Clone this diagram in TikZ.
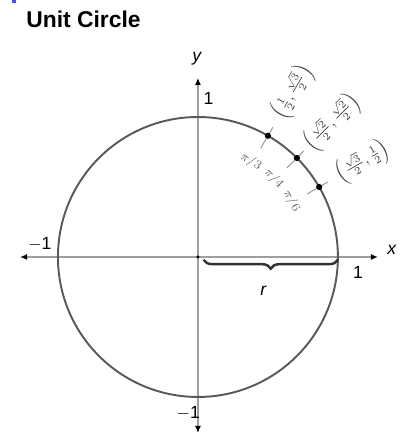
\documentclass[tikz,border=0pt]{standalone}
\usepackage{fontspec}
\setmainfont{Liberation Sans}
\usepackage{amsmath}
\usepackage{xcolor}
\usetikzlibrary{arrows.meta,decorations.pathreplacing}
\definecolor{axisgray}{gray}{0.62}
\definecolor{circgray}{gray}{0.35}
\tikzset{
  axisline/.style={axisgray, line width=0.9pt, {Latex[length=4pt,width=3.5pt,black]}-{Latex[length=4pt,width=3.5pt,black]}},
  unitcirc/.style={circgray, line width=1.1pt},
  tickmark/.style={axisgray, line width=0.6pt},
  ptlabel/.style={font=\small, inner sep=0pt, text=black!75},
  anglabel/.style={font=\scriptsize, inner sep=0pt, text=black!60}
}

\begin{document}
\begin{tikzpicture}[scale=2.8]
    % frame of the picture
    \useasboundingbox (-1.414,-1.286) rectangle (1.486,1.836);
    \fill[blue!70] (-1.33,1.836) rectangle (-1.30,1.815);
    \node[anchor=north west, font=\fontsize{13}{15}\selectfont\bfseries] (title) at (-1.27,1.80) {Unit Circle};

    % coordinates
    \coordinate (O) at (0,0);
    \coordinate (xl) at (-1.271,0);
    \coordinate (xr) at (1.286,0);
    \coordinate (yb) at (0,-1.257);
    \coordinate (yt) at (0,1.279);
    \coordinate (E) at (1,0);

    % axes and circle
    \draw[axisline] (xl) -- (xr);
    \draw[axisline] (yb) -- (yt);
    \draw[unitcirc] (O) circle (1);
    \fill (O) circle (0.012);

    % axis labels
    \node (xlab) at (1.386,0.05) {\textit{x}};
    \node (ylab) at (-0.005,1.42) {\textit{y}};
    \node (one_t) at (0.075,1.136) {1};
    \node (mone_l) at (-1.13,0.093) {$-$1};
    \node (one_r) at (1.143,-0.107) {1};
    \node (mone_b) at (-0.07,-1.114) {$-$1};

    % radius brace
    \draw[decorate, decoration={brace, mirror, amplitude=5pt}, black!80, line width=1.4pt] (0.04,-0.02) -- (1.0,-0.02) coordinate[midway] (bmid);
    \node (rlab) at (0.47,-0.243) {\textit{r}};

    % special angles
    \foreach \ang/\nm/\pt/\al in {60/P60/{\left(\frac{1}{2},\frac{\sqrt{3}}{2}\right)}/{\pi/3},
                                   45/P45/{\left(\frac{\sqrt{2}}{2},\frac{\sqrt{2}}{2}\right)}/{\pi/4},
                                   30/P30/{\left(\frac{\sqrt{3}}{2},\frac{1}{2}\right)}/{\pi/6}} {
        \coordinate (\nm) at (\ang:1);
        \coordinate (\nm in) at (\ang:0.90);
        \coordinate (\nm out) at (\ang:1.07);
        \draw[tickmark] (\nm in) -- (\nm out);
        \fill (\nm) circle (0.022);
        \node[ptlabel, rotate=\ang] (\nm lab) at (\ang:1.36) {$\pt$};
        \node[anglabel, rotate=\ang-92] (\nm ang) at (\ang+1:0.78) {$\al$};
    }
\end{tikzpicture}
\end{document}
